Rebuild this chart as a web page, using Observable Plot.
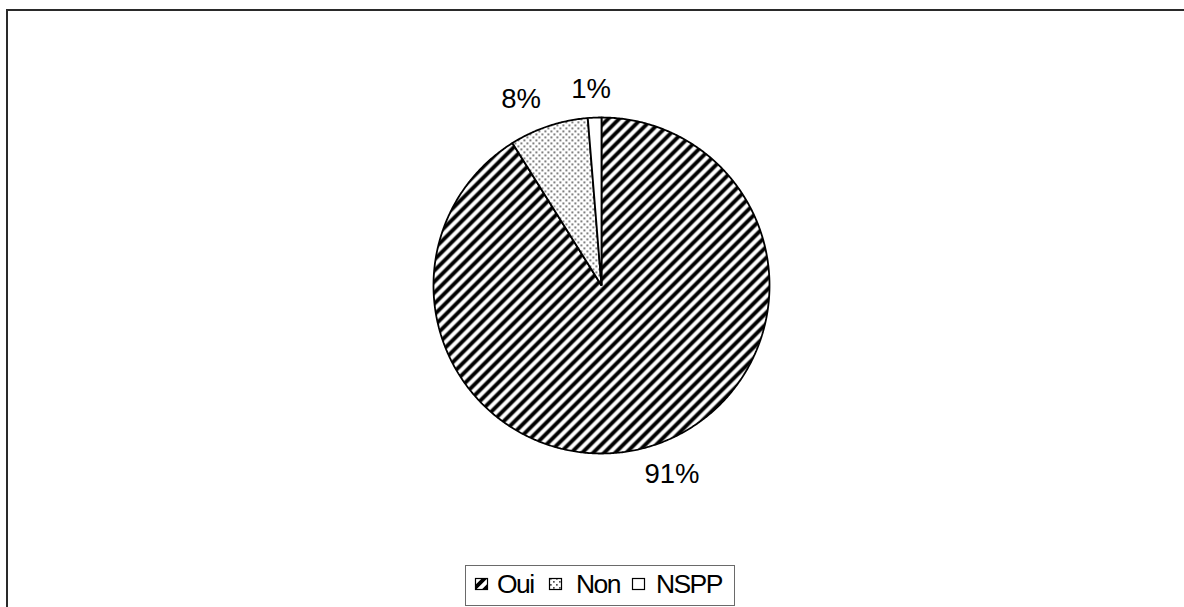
<!DOCTYPE html>
<html>
<head>
<meta charset="utf-8">
<script src="https://cdn.jsdelivr.net/npm/d3@7"></script>
<script src="https://cdn.jsdelivr.net/npm/@observablehq/plot@0.6"></script>
<style>
html, body { margin: 0; padding: 0; background: #fff; overflow: hidden; }
#wrap { position: relative; width: 1184px; height: 607px; font-family: "Liberation Sans", Arial, sans-serif; }
#frame { position: absolute; left: 6px; top: 9px; width: 1400px; height: 800px; border-left: 2px solid #2a2a2a; border-top: 2px solid #2a2a2a; }
#chart { position: absolute; left: 0; top: 0; }
#legend { position: absolute; left: 465px; top: 565px; }
#defs { position: absolute; width: 0; height: 0; }
</style>
</head>
<body>
<svg id="defs" width="0" height="0">
  <defs>
    <pattern id="hatch" patternUnits="userSpaceOnUse" width="11" height="11">
      <rect width="11" height="11" fill="#fff"/>
      <path d="M-1,12 L12,-1 M-3.75,3.75 L3.75,-3.75 M7.25,14.75 L14.75,7.25" stroke="#000" stroke-width="3.9"/>
    </pattern>
    <pattern id="dots" patternUnits="userSpaceOnUse" width="6" height="6">
      <rect width="6" height="6" fill="#fff"/>
      <rect x="1" y="1" width="1.7" height="1.7" fill="#505050"/>
      <rect x="4" y="4" width="1.7" height="1.7" fill="#505050"/>
    </pattern>
  </defs>
</svg>
<div id="wrap">
  <div id="frame"></div>
  <div id="chart"></div>
  <div id="legend"></div>
</div>
<script>
// ---- data ----
const categories = ["Oui", "Non", "NSPP"];
const values = [91.1, 7.6, 1.3];
const labels = ["91%", "8%", "1%"];
const fills = ["url(#hatch)", "url(#dots)", "#ffffff"];

// ---- slice geometry (clockwise from 12 o'clock) ----
const total = d3.sum(values);
const points = [];
const labelData = [];
let acc = 0;
categories.forEach((cat, i) => {
  const a0 = acc / total * 2 * Math.PI;
  acc += values[i];
  const a1 = acc / total * 2 * Math.PI;
  points.push({cat, x: 0, y: 0});
  const n = Math.max(2, Math.ceil((a1 - a0) / (Math.PI / 360)));
  for (let k = 0; k <= n; k++) {
    const a = a0 + (a1 - a0) * k / n;
    points.push({cat, x: Math.sin(a), y: Math.cos(a)});
  }
  const am = (a0 + a1) / 2;
  labelData.push({cat, label: labels[i], x: Math.sin(am) * 1.52, y: Math.cos(am) * 1.17});
});

const chart = Plot.plot({
  width: 1184,
  height: 607,
  marginLeft: 433,
  marginRight: 415,
  marginTop: 117,
  marginBottom: 154,
  x: {domain: [-1, 1], axis: null},
  y: {domain: [-1, 1], axis: null},
  style: {background: "transparent", fontFamily: "'Liberation Sans', Arial, sans-serif"},
  marks: [
    ...categories.map((c, i) => Plot.line(points.filter(p => p.cat === c), {
      x: "x", y: "y", curve: "linear-closed",
      fill: fills[i], stroke: "#000", strokeWidth: 1.8, strokeLinejoin: "miter"
    })),
    Plot.text(labelData, {x: "x", y: "y", text: "label", fontSize: 27.5, fill: "#000"})
  ]
});
document.getElementById("chart").appendChild(chart);

// ---- legend ----
const leg = d3.select("#legend").append("svg")
  .attr("width", 270).attr("height", 41)
  .style("font-family", "'Liberation Sans', Arial, sans-serif");
leg.append("rect").attr("x", 0.5).attr("y", 0.5).attr("width", 269).attr("height", 40)
  .attr("fill", "#fff").attr("stroke", "#6a6a6a").attr("stroke-width", 1);
const swX = [10, 84, 167];
const txX = [32, 111, 191];
categories.forEach((c, i) => {
  leg.append("rect").attr("x", swX[i] + 0.5).attr("y", 13.5).attr("width", 12).attr("height", 11)
    .attr("fill", fills[i]).attr("stroke", "#000").attr("stroke-width", 1.2);
  leg.append("text").attr("x", txX[i]).attr("y", 27.5)
    .attr("font-size", 26.5).attr("letter-spacing", -1.6).attr("fill", "#000").text(c);
});
</script>
</body>
</html>
